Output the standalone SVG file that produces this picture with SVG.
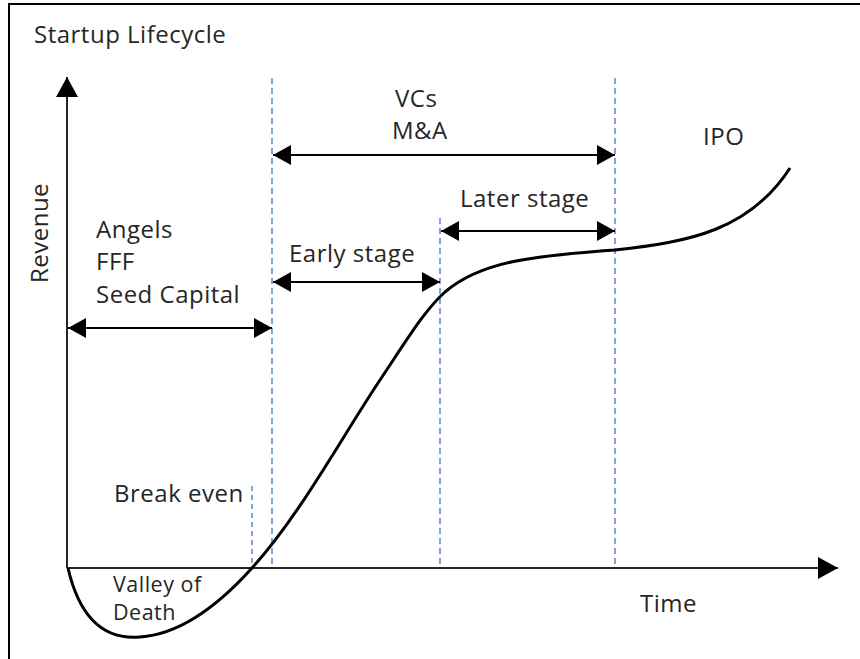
<svg xmlns="http://www.w3.org/2000/svg" width="860" height="659" viewBox="0 0 860 659">
<style>
text{font-family:"Open Sans","Liberation Sans",sans-serif;font-size:24px;letter-spacing:0.5px;fill:#262626}
.sm{font-size:21.5px}
.ax{stroke:#262626;stroke-width:2;fill:none}
.dash{stroke:#4472C4;stroke-width:1.3;stroke-dasharray:6,4;fill:none}
.arr{stroke:#000;stroke-width:2;fill:none;marker-start:url(#ah);marker-end:url(#ah)}
.curve{stroke:#000;stroke-width:3;fill:none}
</style>
<defs>
<marker id="ah" viewBox="0 0 18 20" refX="18" refY="10" markerWidth="18" markerHeight="20" markerUnits="userSpaceOnUse" orient="auto-start-reverse">
<path d="M0,0L18,10L0,20z" fill="#000"/>
</marker>
<marker id="axh" viewBox="0 0 20 22" refX="20" refY="11" markerWidth="20" markerHeight="22" markerUnits="userSpaceOnUse" orient="auto">
<path d="M0,0L20,11L0,22z" fill="#000"/>
</marker>
</defs>
<rect x="0" y="0" width="860" height="659" fill="#fff"/>
<rect x="9" y="4" width="900" height="700" fill="none" stroke="#000" stroke-width="2"/>
<g id="connectors">
<line class="dash" x1="272" y1="78" x2="272" y2="568"/>
<line class="dash" x1="440" y1="218" x2="440" y2="568"/>
<line class="dash" x1="615" y1="78" x2="615" y2="568"/>
<line class="dash" x1="252" y1="486" x2="252" y2="568" style="stroke-dasharray:5,4"/>
<line class="ax" x1="67" y1="568" x2="67" y2="77" marker-end="url(#axh)"/>
<line class="ax" x1="67" y1="568" x2="838" y2="568" marker-end="url(#axh)"/>
<line class="arr" x1="68" y1="328" x2="272" y2="328"/>
<line class="arr" x1="273" y1="155" x2="615" y2="155"/>
<line class="arr" x1="273" y1="282" x2="440" y2="282"/>
<line class="arr" x1="441" y1="231" x2="615" y2="231"/>
<path class="curve" d="M68,568 C80,620 105,640 140,637 C185,634 225,598 252,568 C300,515 340,440 380,380 C410,335 425,310 445,292 C480,262 530,256 615,250 C690,242 750,230 790,168"/>
</g>
<g id="title"><text x="34" y="43">Startup Lifecycle</text></g>
<g id="revenue"><text transform="translate(48,233) rotate(-90)" text-anchor="middle">Revenue</text></g>
<g id="seed">
<text x="96" y="238">Angels</text>
<text x="96" y="270">FFF</text>
<text x="96" y="303">Seed Capital</text>
</g>
<g id="vcs">
<text x="395" y="107">VCs</text>
<text x="392" y="139">M&amp;A</text>
</g>
<g id="early"><text x="289" y="262">Early stage</text></g>
<g id="later"><text x="460" y="207">Later stage</text></g>
<g id="ipo"><text x="703" y="145">IPO</text></g>
<g id="breakeven"><text x="114" y="502">Break even</text></g>
<g id="valley">
<text class="sm" x="113" y="592">Valley of</text>
<text class="sm" x="113" y="620">Death</text>
</g>
<g id="time"><text x="640" y="612">Time</text></g>
</svg>
